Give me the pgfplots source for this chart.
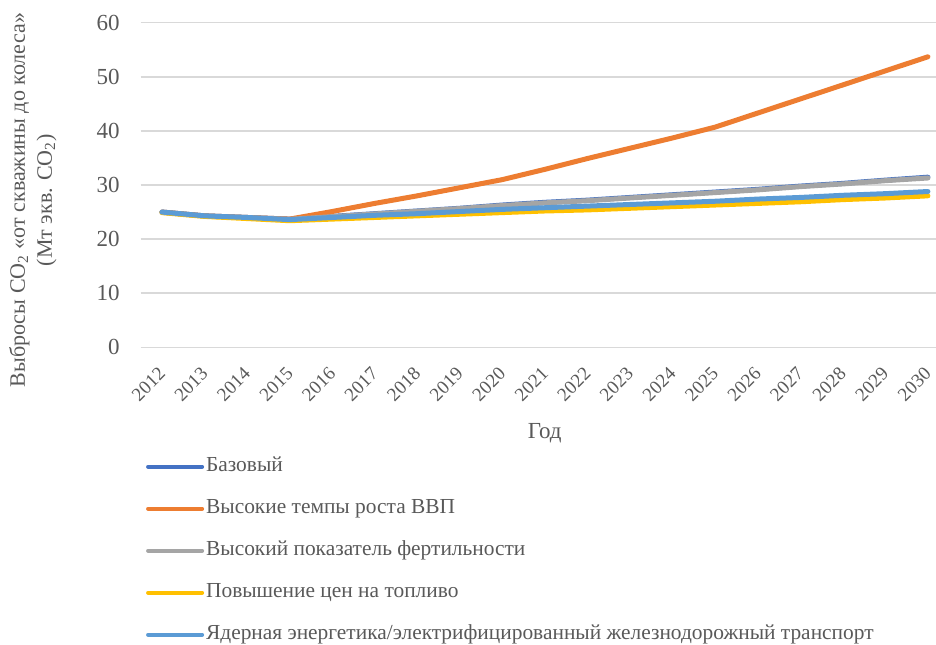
\documentclass[border=0pt]{standalone}
\usepackage{fontspec}
\setmainfont{Liberation Serif}
\usepackage{pgfplots}
\pgfplotsset{compat=1.18}
\definecolor{txt}{HTML}{595959}
\definecolor{gridc}{HTML}{D9D9D9}
\definecolor{c1}{HTML}{4472C4}
\definecolor{c2}{HTML}{ED7D31}
\definecolor{c3}{HTML}{A5A5A5}
\definecolor{c4}{HTML}{FFC000}
\definecolor{c5}{HTML}{5B9BD5}
\begin{document}
\begin{tikzpicture}
\path[use as bounding box] (-70.35pt,-148.35pt) rectangle (397.65pt,173.65pt);
\begin{axis}[
  scale only axis,
  width=397.65pt, height=162.3pt,
  xmin=2011.5, xmax=2030.19,
  ymin=0, ymax=60,
  axis line style={draw=none},
  tick style={draw=none},
  ymajorgrids,
  grid style={color=gridc, line width=0.75pt},
  xtick={2012,...,2030},
  ytick={0,10,...,60},
  /pgf/number format/.cd, 1000 sep={}, assume math mode=true,
  /pgfplots/.cd,
  yticklabel style={font=\fontsize{11.5}{13}\selectfont, text=txt, xshift=-7pt},
  xticklabel style={font=\fontsize{9.5}{11}\selectfont, text=txt,
    rotate=45, anchor=east, xshift=-4.8pt, yshift=-8.3pt},
  legend cell align=left,
  legend style={
    at={(axis description cs:0.0063,-0.3292)}, anchor=north west,
    draw=none, fill=none, inner sep=0pt,
    font=\fontsize{10.7}{12}\selectfont, text=txt,
    row sep=9pt, column sep=0pt,
    nodes={inner sep=1pt, text height=7.5pt, text depth=2.5pt},
  },
  legend image code/.code={\draw[#1, line width=2pt, line cap=round] (0pt,0pt) -- (27pt,0pt);},
  every axis plot/.append style={line width=2.5pt, line cap=round, line join=round},
]
\addplot[c1] coordinates {
 (2012,25.0) (2013,24.3) (2014,24.0) (2015,23.7) (2016,24.2) (2017,24.7)
 (2018,25.2) (2019,25.7) (2020,26.3) (2021,26.8) (2022,27.2) (2023,27.7)
 (2024,28.2) (2025,28.7) (2026,29.2) (2027,29.8) (2028,30.3) (2029,30.9) (2030,31.45)};
\addlegendentry{Базовый}
\addplot[c2] coordinates {
 (2012,25.0) (2013,24.3) (2014,24.0) (2015,23.7) (2016,25.1) (2017,26.6)
 (2018,28.0) (2019,29.5) (2020,31.0) (2021,32.9) (2022,34.9) (2023,36.8)
 (2024,38.7) (2025,40.7) (2026,43.3) (2027,45.9) (2028,48.5) (2029,51.1) (2030,53.7)};
\addlegendentry{Высокие темпы роста ВВП}
\addplot[c3] coordinates {
 (2012,24.95) (2013,24.25) (2014,23.95) (2015,23.65) (2016,24.15) (2017,24.65)
 (2018,25.15) (2019,25.65) (2020,26.2) (2021,26.7) (2022,27.1) (2023,27.6)
 (2024,28.1) (2025,28.6) (2026,29.1) (2027,29.7) (2028,30.2) (2029,30.8) (2030,31.3)};
\addlegendentry{Высокий показатель фертильности}
\addplot[c4] coordinates {
 (2012,24.9) (2013,24.2) (2014,23.8) (2015,23.4) (2016,23.7) (2017,24.0)
 (2018,24.3) (2019,24.6) (2020,24.9) (2021,25.2) (2022,25.4) (2023,25.7)
 (2024,26.0) (2025,26.3) (2026,26.6) (2027,26.9) (2028,27.3) (2029,27.6) (2030,28.0)};
\addlegendentry{Повышение цен на топливо}
\addplot[c5] coordinates {
 (2012,25.0) (2013,24.3) (2014,24.0) (2015,23.6) (2016,24.0) (2017,24.4)
 (2018,24.7) (2019,25.1) (2020,25.5) (2021,25.8) (2022,26.1) (2023,26.4)
 (2024,26.7) (2025,27.0) (2026,27.4) (2027,27.7) (2028,28.1) (2029,28.4) (2030,28.8)};
\addlegendentry{Ядерная энергетика/электрифицированный железнодорожный транспорт}
\end{axis}
\node[text=txt, font=\fontsize{11.5}{13}\selectfont] at (202pt,-43pt) {Год};
\node[text=txt, font=\fontsize{11}{13.5}\selectfont, rotate=90, align=center]
  at (-53.9pt,73.6pt) {Выбросы CO\textsubscript{2} «от скважины до колеса»\\(Мт экв. CO\textsubscript{2})};
\end{tikzpicture}
\end{document}
